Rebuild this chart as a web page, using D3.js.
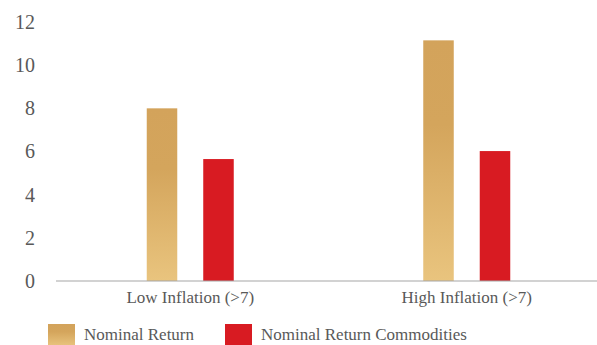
<!DOCTYPE html>
<head>
<meta charset="utf-8">
<script src="https://d3js.org/d3.v7.min.js"></script>
<style>
body { margin: 0; background: #fff; }
svg text { font-family: "Liberation Serif", serif; fill: #595959; }
.axis path, .axis line { display: none; }
</style>
</head>
<body>
<svg width="597" height="345"></svg>
<script>
// data
var categories = ["Low Inflation (>7)", "High Inflation (>7)"];
var seriesNames = ["Nominal Return", "Nominal Return Commodities"];
var nominalReturn = [8.0, 11.15];
var commoditiesReturn = [5.65, 6.02];
var yTicks = [0, 2, 4, 6, 8, 10, 12];

var svg = d3.select("svg");
var margin = {top: 22, left: 52, right: -8, bottom: 64};
var width = 597, height = 345;

var x = d3.scaleBand()
  .domain(categories)
  .range([margin.left, width - margin.right]);

var xs = d3.scaleBand()
  .domain(seriesNames)
  .range([0, 87])
  .paddingInner(0.46);

var y = d3.scaleLinear()
  .domain([0, 12])
  .range([height - margin.bottom, margin.top]);

var defs = svg.append("defs");
var grad = defs.append("linearGradient")
  .attr("id", "gold").attr("x1", 0).attr("y1", 0).attr("x2", 0).attr("y2", 1);
grad.append("stop").attr("offset", "0%").attr("stop-color", "#D3A35B");
grad.append("stop").attr("offset", "35%").attr("stop-color", "#D4A55C");
grad.append("stop").attr("offset", "100%").attr("stop-color", "#E9C47E");

var colors = ["url(#gold)", "#D81B22"];

// y axis labels
svg.append("g")
  .attr("class", "axis")
  .attr("transform", "translate(" + 35 + ",0)")
  .call(d3.axisLeft(y).tickValues(yTicks).tickSize(0).tickPadding(0))
  .selectAll("text")
  .style("font-size", "20px")
  .style("font-family", '"Liberation Serif", serif')
  .attr("fill", "#595959");

var rows = categories.map(function(c, i) {
  return {cat: c, values: [nominalReturn[i], commoditiesReturn[i]]};
});

var groups = svg.selectAll(".grp").data(rows).enter().append("g")
  .attr("class", "grp")
  .attr("transform", d => "translate(" + (x(d.cat) + x.bandwidth() / 2 - 43.5) + ",0)");

groups.selectAll("rect").data(d => d.values.map((v, i) => ({name: seriesNames[i], v: v, i: i})))
  .enter().append("rect")
  .attr("x", d => xs(d.name))
  .attr("width", xs.bandwidth())
  .attr("y", d => y(d.v))
  .attr("height", d => y(0) - y(d.v))
  .attr("fill", d => colors[d.i]);

// baseline
svg.append("line")
  .attr("x1", 56).attr("x2", width)
  .attr("y1", y(0)).attr("y2", y(0))
  .attr("stroke", "#A6A6A6").attr("stroke-width", 1.2);

// category labels
svg.append("g")
  .attr("class", "axis")
  .attr("transform", "translate(0," + y(0) + ")")
  .call(d3.axisBottom(x).tickSize(0).tickPadding(10))
  .selectAll("text")
  .style("font-size", "17px")
  .style("font-family", '"Liberation Serif", serif')
  .attr("fill", "#595959");

// legend
var legendX = [48, 225];
var legend = svg.selectAll(".leg").data(seriesNames).enter().append("g")
  .attr("class", "leg")
  .attr("transform", (d, i) => "translate(" + legendX[i] + ",324)");
legend.append("rect")
  .attr("width", 27).attr("height", 22)
  .attr("fill", (d, i) => colors[i]);
legend.append("text")
  .attr("x", 36).attr("y", 16)
  .style("font-size", "17px")
  .text(d => d);
</script>
</body>
